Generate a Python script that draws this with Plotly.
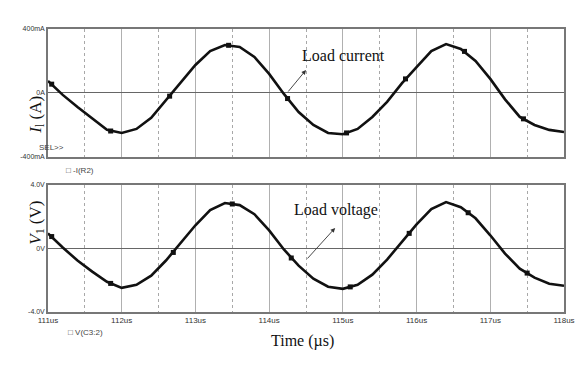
import plotly.graph_objects as go
from plotly.subplots import make_subplots

time_us = [111.0, 111.2, 111.4, 111.6, 111.8, 112.0, 112.2, 112.4, 112.6, 112.8,
           113.0, 113.2, 113.4, 113.6, 113.8, 114.0, 114.2, 114.4, 114.6, 114.8,
           115.0, 115.2, 115.4, 115.6, 115.8, 116.0, 116.2, 116.4, 116.6, 116.8,
           117.0, 117.2, 117.4, 117.6, 117.8, 118.0]
current_mA = [75, -12, -88, -162, -231, -250, -225, -156, -44, 62,
              175, 262, 300, 288, 225, 119, -6, -119, -200, -250,
              -258, -225, -150, -56, 60, 162, 262, 306, 275, 200,
              88, -40, -150, -200, -231, -244]
voltage_V = [0.95, 0.06, -0.76, -1.46, -2.10, -2.48, -2.29, -1.71, -0.76, 0.32,
             1.46, 2.41, 2.86, 2.73, 2.16, 1.14, -0.06, -1.08, -1.90, -2.41,
             -2.54, -2.29, -1.65, -0.70, 0.38, 1.52, 2.48, 2.92, 2.60, 1.90,
             0.83, -0.32, -1.27, -1.84, -2.22, -2.35]

marker_t_i = [111.05, 111.85, 112.65, 113.45, 114.25, 115.05, 115.85, 116.65, 117.45]
marker_i = [55, -238, -20, 298, -35, -250, 88, 260, -162]
marker_t_v = [111.05, 111.85, 112.7, 113.5, 114.3, 115.1, 115.9, 116.7, 117.5]
marker_v = [0.75, -2.2, -0.25, 2.8, -0.6, -2.42, 0.95, 2.25, -1.55]

x_tickvals = [111, 112, 113, 114, 115, 116, 117, 118]
x_ticktext = ["111us", "112us", "113us", "114us", "115us", "116us", "117us", "118us"]
i_tickvals = [-400, 0, 400]
i_ticktext = ["-400mA", "0A", "400mA"]
v_tickvals = [-4, 0, 4]
v_ticktext = ["-4.0V", "0V", "4.0V"]

fig = make_subplots(rows=2, cols=1, shared_xaxes=False, vertical_spacing=0.1)

line = dict(color="#111111", width=2.6)
fig.add_trace(go.Scatter(x=time_us, y=current_mA, mode="lines", line=line, showlegend=False), 1, 1)
fig.add_trace(go.Scatter(x=marker_t_i, y=marker_i, mode="markers",
                         marker=dict(symbol="square", size=5, color="#111111"), showlegend=False), 1, 1)
fig.add_trace(go.Scatter(x=time_us, y=voltage_V, mode="lines", line=line, showlegend=False), 2, 1)
fig.add_trace(go.Scatter(x=marker_t_v, y=marker_v, mode="markers",
                         marker=dict(symbol="square", size=5, color="#111111"), showlegend=False), 2, 1)

tickf = dict(family="Liberation Sans Narrow, Arial Narrow, Liberation Sans", size=8, color="#333")
xcommon = dict(range=[111, 118], tickvals=x_tickvals, showgrid=True, gridcolor="#b0b0b0", gridwidth=1,
               minor=dict(dtick=0.5, tick0=111, showgrid=True, gridcolor="#a8a8a8", griddash="dot", gridwidth=1),
               showline=True, linecolor="#777777", linewidth=1.6, mirror=True, zeroline=False,
               ticks="", tickfont=tickf)
fig.update_xaxes(**xcommon, showticklabels=False, row=1, col=1)
fig.update_xaxes(**xcommon, ticktext=x_ticktext, showticklabels=True, row=2, col=1)

ycommon = dict(showgrid=False, zeroline=True, zerolinecolor="#666666", zerolinewidth=1.4,
               showline=True, linecolor="#777777", linewidth=1.6, mirror=True, ticks="",
               tickfont=dict(tickf, size=7))
fig.update_yaxes(**ycommon, range=[-400, 400], tickvals=i_tickvals, ticktext=i_ticktext,
                 domain=[0.548, 1.0], row=1, col=1)
fig.update_yaxes(**ycommon, range=[-4, 4], tickvals=v_tickvals, ticktext=v_ticktext,
                 domain=[0.0, 0.449], row=2, col=1)

serif = "Liberation Serif, Times New Roman, serif"
small = dict(family="Liberation Sans Narrow, Arial Narrow, Liberation Sans", size=8, color="#444")

# page has an 8px body margin; size the figure so the plot area lands at page px 43..575, 29..312
OFF = 8
W, H = 587 - OFF, 365 - OFF
PL, PT, PR, PB = 43, 29, 575, 312
L, T = PL - OFF, PT - OFF
pw, ph = PR - PL, PB - PT
R = W - L - pw
B = H - T - ph

def px(xp, yp):
    return (xp - PL) / pw, (PB - yp) / ph

texts = [
    ("Load current", 348, 45, dict(family=serif, size=16, color="#111"), 0),
    ("Load voltage", 340, 210, dict(family=serif, size=16, color="#111"), 0),
    ("Time (µs)", 305, 352, dict(family=serif, size=16, color="#111"), 0),
    ("<i>I</i><sub>l</sub> (A)", 18, 94, dict(family=serif, size=17, color="#111"), -90),
    ("<i>V</i><sub>1</sub> (V)", 18, 247, dict(family=serif, size=17, color="#111"), -90),
    ("SEL&gt;&gt;", 32, 147, small, 0),
    ("□ -I(R2)", 60, 170, small, 0),
    ("□ V(C3:2)", 62, 339, small, 0),
]
for t, xp, yp, f, ang in texts:
    x, y = px(xp, yp)
    fig.add_annotation(text=t, x=x, y=y, xref="paper", yref="paper", showarrow=False,
                       font=f, textangle=ang)

for (x0, y0, x1, y1) in [(290, 93, 309, 70), (310, 260, 339, 228)]:
    hx, hy = px(x1, y1)
    fig.add_annotation(x=hx, y=hy, ax=x0 - x1, ay=y0 - y1, xref="paper", yref="paper",
                       axref="pixel", ayref="pixel",
                       showarrow=True, arrowhead=2, arrowsize=1, arrowwidth=0.9, arrowcolor="#333", text="")

fig.update_layout(width=W, height=H, margin=dict(l=L, r=R, t=T, b=B),
                  paper_bgcolor="white", plot_bgcolor="white")

fig.write_html("out.html")
